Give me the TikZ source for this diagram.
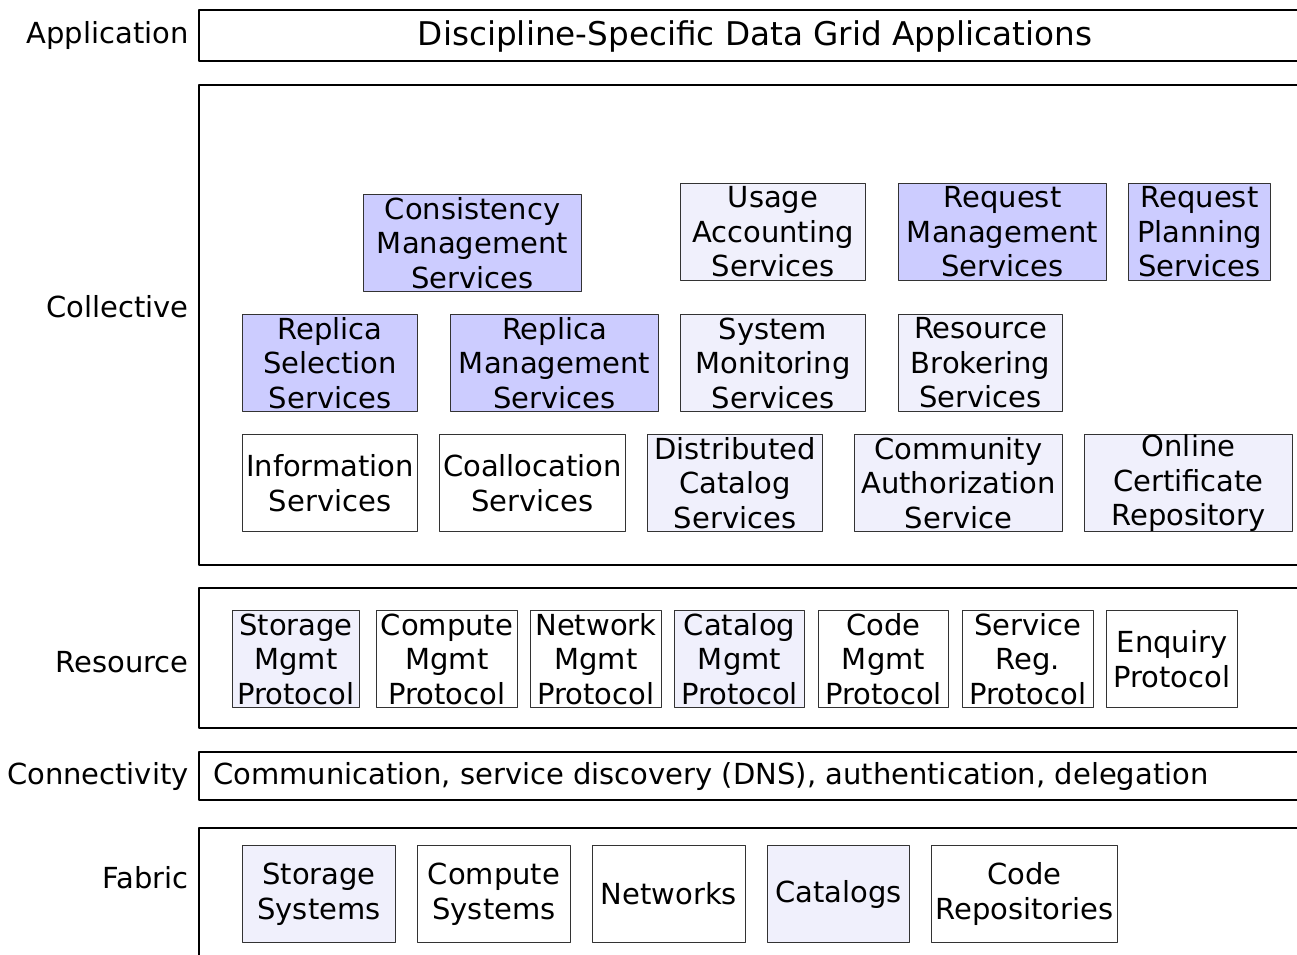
\documentclass[tikz,border=0pt]{standalone}
\usepackage{fontspec}
\setmainfont{DejaVu Sans}
\definecolor{solidblue}{RGB}{204,204,255}
\definecolor{lightblue}{RGB}{240,240,252}
\def\px{0.75pt}
\newcommand{\boxfont}{\fontsize{21.75}{25.9}\selectfont}
\newcommand{\headfont}{\fontsize{24.5}{28}\selectfont}

\begin{document}
\begin{tikzpicture}[x=0.75pt, y=-0.75pt, line cap=round, line join=round,
  layer/.style={draw=black, line width=1.1pt},
  layername/.style={anchor=east, inner sep=0pt, font=\boxfont},
  svc/.style={draw=black!80, line width=0.75pt, anchor=north west, inner sep=0pt, align=center, font=\boxfont, minimum height=97*\px},
  solidsvc/.style={svc, fill=solidblue},
  lightsvc/.style={svc, fill=lightblue},
  plainsvc/.style={svc, fill=white}]

\useasboundingbox (0,0) rectangle (1297,954);
\clip (0,0) rectangle (1297,954);

% layers
\draw[layer] (199,10) rectangle (1311,61);
\node[inner sep=0pt, font=\headfont] (apptext) at (755,36) {Discipline-Specific Data Grid Applications};
\draw[layer] (199,85) rectangle (1311,565);
\draw[layer] (199,588) rectangle (1311,728);
\draw[layer] (199,752) rectangle (1311,800);
\node[anchor=west, inner sep=0pt, font=\boxfont] (conntext) at (213,776) {Communication, service discovery (DNS), authentication, delegation};
\draw[layer] (199,828) rectangle (1311,970);

\node[layername] (application) at (189,35) {Application};
\node[layername] (collective) at (189,307) {Collective};
\node[layername] (resource) at (189,662) {Resource};
\node[layername] (connectivity) at (189,776) {Connectivity};
\node[layername] (fabric) at (189,878) {Fabric};

% collective services
\node[solidsvc, minimum width=218*\px] (consistency) at (363,194) {Consistency\\Management\\Services};
\node[lightsvc, minimum width=185*\px] (usage) at (680,183) {Usage\\Accounting\\Services};
\node[solidsvc, minimum width=208*\px] (reqmgmt) at (898,183) {Request\\Management\\Services};
\node[solidsvc, minimum width=142*\px] (reqplan) at (1128,183) {Request\\Planning\\Services};

\node[solidsvc, minimum width=175*\px] (repsel) at (242,314) {Replica\\Selection\\Services};
\node[solidsvc, minimum width=208*\px] (repmgmt) at (450,314) {Replica\\Management\\Services};
\node[lightsvc, minimum width=185*\px] (sysmon) at (680,314) {System\\Monitoring\\Services};
\node[lightsvc, minimum width=164*\px] (broker) at (898,314) {Resource\\Brokering\\Services};

\node[plainsvc, minimum width=175*\px] (info) at (242,434) {Information\\Services};
\node[plainsvc, minimum width=186*\px] (coalloc) at (439,434) {Coallocation\\Services};
\node[lightsvc, minimum width=175*\px] (distcat) at (647,434) {Distributed\\Catalog\\Services};
\node[lightsvc, minimum width=208*\px] (cas) at (854,434) {Community\\Authorization\\Service};
\node[lightsvc, minimum width=208*\px] (certrepo) at (1084,434) {Online\\Certificate\\Repository};

% resource protocols
\node[lightsvc, minimum width=127*\px] (storproto) at (232,610) {Storage\\Mgmt\\Protocol};
\node[plainsvc, minimum width=141*\px] (compproto) at (376,610) {Compute\\Mgmt\\Protocol};
\node[plainsvc, minimum width=131*\px] (netproto) at (530,610) {Network\\Mgmt\\Protocol};
\node[lightsvc, minimum width=130*\px] (catproto) at (674,610) {Catalog\\Mgmt\\Protocol};
\node[plainsvc, minimum width=130*\px] (codeproto) at (818,610) {Code\\Mgmt\\Protocol};
\node[plainsvc, minimum width=131*\px] (regproto) at (962,610) {Service\\Reg.\\Protocol};
\node[plainsvc, minimum width=131*\px] (enqproto) at (1106,610) {Enquiry\\Protocol};

% fabric
\node[lightsvc, minimum width=153*\px] (storsys) at (242,845) {Storage\\Systems};
\node[plainsvc, minimum width=153*\px] (compsys) at (417,845) {Compute\\Systems};
\node[plainsvc, minimum width=153*\px] (networks) at (592,845) {Networks};
\node[lightsvc, minimum width=142*\px] (catalogs) at (767,845) {Catalogs};
\node[plainsvc, minimum width=186*\px] (coderepo) at (931,845) {Code\\Repositories};

\end{tikzpicture}
\end{document}
